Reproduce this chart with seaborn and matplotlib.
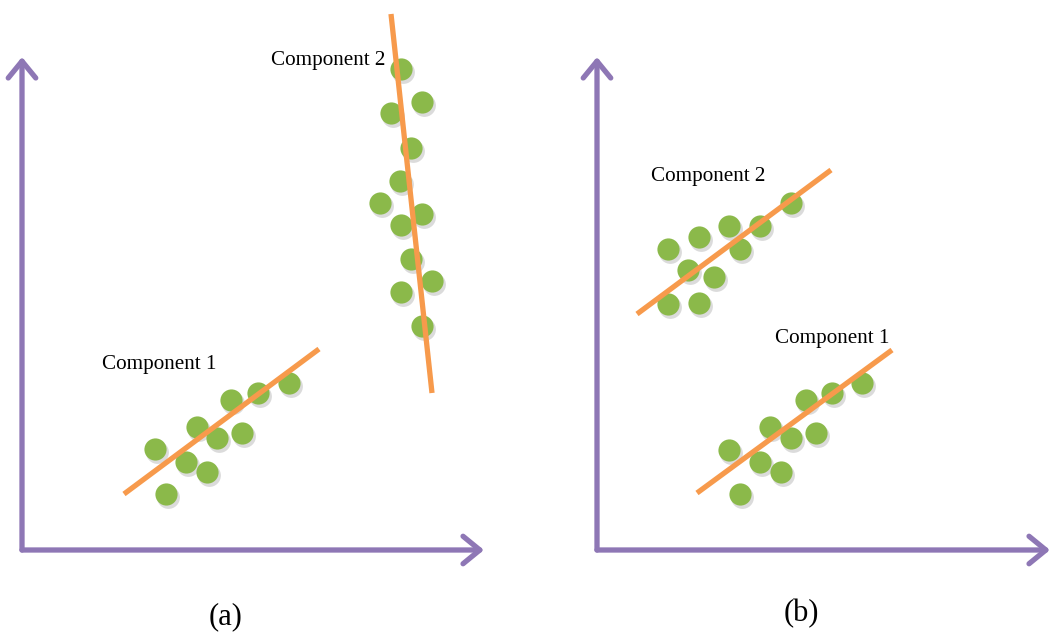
import numpy as np
import pandas as pd
import matplotlib
matplotlib.use("Agg")
import matplotlib.pyplot as plt
import seaborn as sns

# ==========================
# DATA (pixel-space coordinates of the diagram)
# ==========================

# panel (a)
a_c1_x = [155, 197, 231, 258, 289, 217, 242, 186, 207, 166]
a_c1_y = [449, 427, 400, 393, 383, 438, 433, 462, 472, 494]
a_c1_line_x = [124, 319]
a_c1_line_y = [494, 349]

a_c2_x = [401, 391, 422, 411, 400, 380, 401, 422, 411, 432, 401, 422]
a_c2_y = [69, 113, 102, 148, 181, 203, 225, 214, 259, 281, 292, 326]
a_c2_line_x = [391, 432]
a_c2_line_y = [14, 393]

# panel (b)
b_c2_x = [668, 699, 729, 760, 791, 740, 688, 714, 668, 699]
b_c2_y = [249, 237, 226, 226, 203, 249, 270, 277, 304, 303]
b_c2_line_x = [637, 831]
b_c2_line_y = [314, 170]

b_c1_x = [729, 770, 806, 832, 862, 791, 816, 760, 781, 740]
b_c1_y = [450, 427, 400, 393, 383, 438, 433, 462, 472, 494]
b_c1_line_x = [697, 892]
b_c1_line_y = [493, 350]

# axes origins / tips
origins = [(22, 550), (597, 550)]
x_tips = [484, 1050]
y_tip = 57

labels = ["Component 1", "Component 2", "Component 2", "Component 1"]
label_pos = [(102, 365), (271, 60), (651, 176), (775, 338)]
panel_labels = ["(a)", "(b)"]
panel_pos = [(226, 617), (801, 614)]

PURPLE = "#8E77B5"
GREEN = "#8BB94A"
ORANGE = "#F79A4C"

# ==========================
# FIGURE
# ==========================

sns.set_style("white")
plt.rcParams["font.family"] = ["Liberation Serif", "DejaVu Serif"]
plt.rcParams["text.color"] = "black"

fig = plt.figure(figsize=(10.52, 6.34), dpi=100)
ax = fig.add_axes([0, 0, 1, 1])
ax.set_xlim(0, 1052)
ax.set_ylim(634, 0)
ax.axis("off")

# axis arrows
for (ox, oy), xt in zip(origins, x_tips):
    for end in [(xt, oy), (ox, y_tip)]:
        ax.annotate(
            "",
            xy=end,
            xytext=(ox, oy),
            arrowprops=dict(
                arrowstyle="->,head_length=0.55,head_width=0.45",
                color=PURPLE,
                lw=3.8,
                mutation_scale=22,
                shrinkA=0,
                shrinkB=0,
                capstyle="round",
                joinstyle="round",
            ),
        )

# dots
pts = pd.DataFrame({
    "x": a_c1_x + a_c2_x + b_c2_x + b_c1_x,
    "y": a_c1_y + a_c2_y + b_c2_y + b_c1_y,
})

# soft shadow
sns.scatterplot(
    data=pts.assign(x=pts["x"] + 1.5, y=pts["y"] + 2.5),
    x="x", y="y", ax=ax,
    s=270, color="#9a9a9a", alpha=0.35, linewidth=0, zorder=2
)
sns.scatterplot(
    data=pts, x="x", y="y", ax=ax,
    s=255, color=GREEN, linewidth=0, zorder=3
)

# fitted lines
for lx, ly in [
    (a_c1_line_x, a_c1_line_y),
    (a_c2_line_x, a_c2_line_y),
    (b_c2_line_x, b_c2_line_y),
    (b_c1_line_x, b_c1_line_y),
]:
    sns.lineplot(
        x=lx, y=ly, ax=ax, sort=False, estimator=None,
        color=ORANGE, lw=3.8, zorder=4
    )
    ax.lines[-1].set_solid_capstyle("butt")

# text
for txt, (tx, ty) in zip(labels, label_pos):
    ax.text(tx, ty, txt, fontsize=15.2, ha="left", va="center",
            color="black", zorder=5)

for txt, (tx, ty) in zip(panel_labels, panel_pos):
    ax.text(tx, ty, txt, fontsize=22, ha="center", va="center",
            color="black")

ax.set_xlim(0, 1052)
ax.set_ylim(634, 0)

fig.savefig("out.png", dpi=100)
plt.close()
